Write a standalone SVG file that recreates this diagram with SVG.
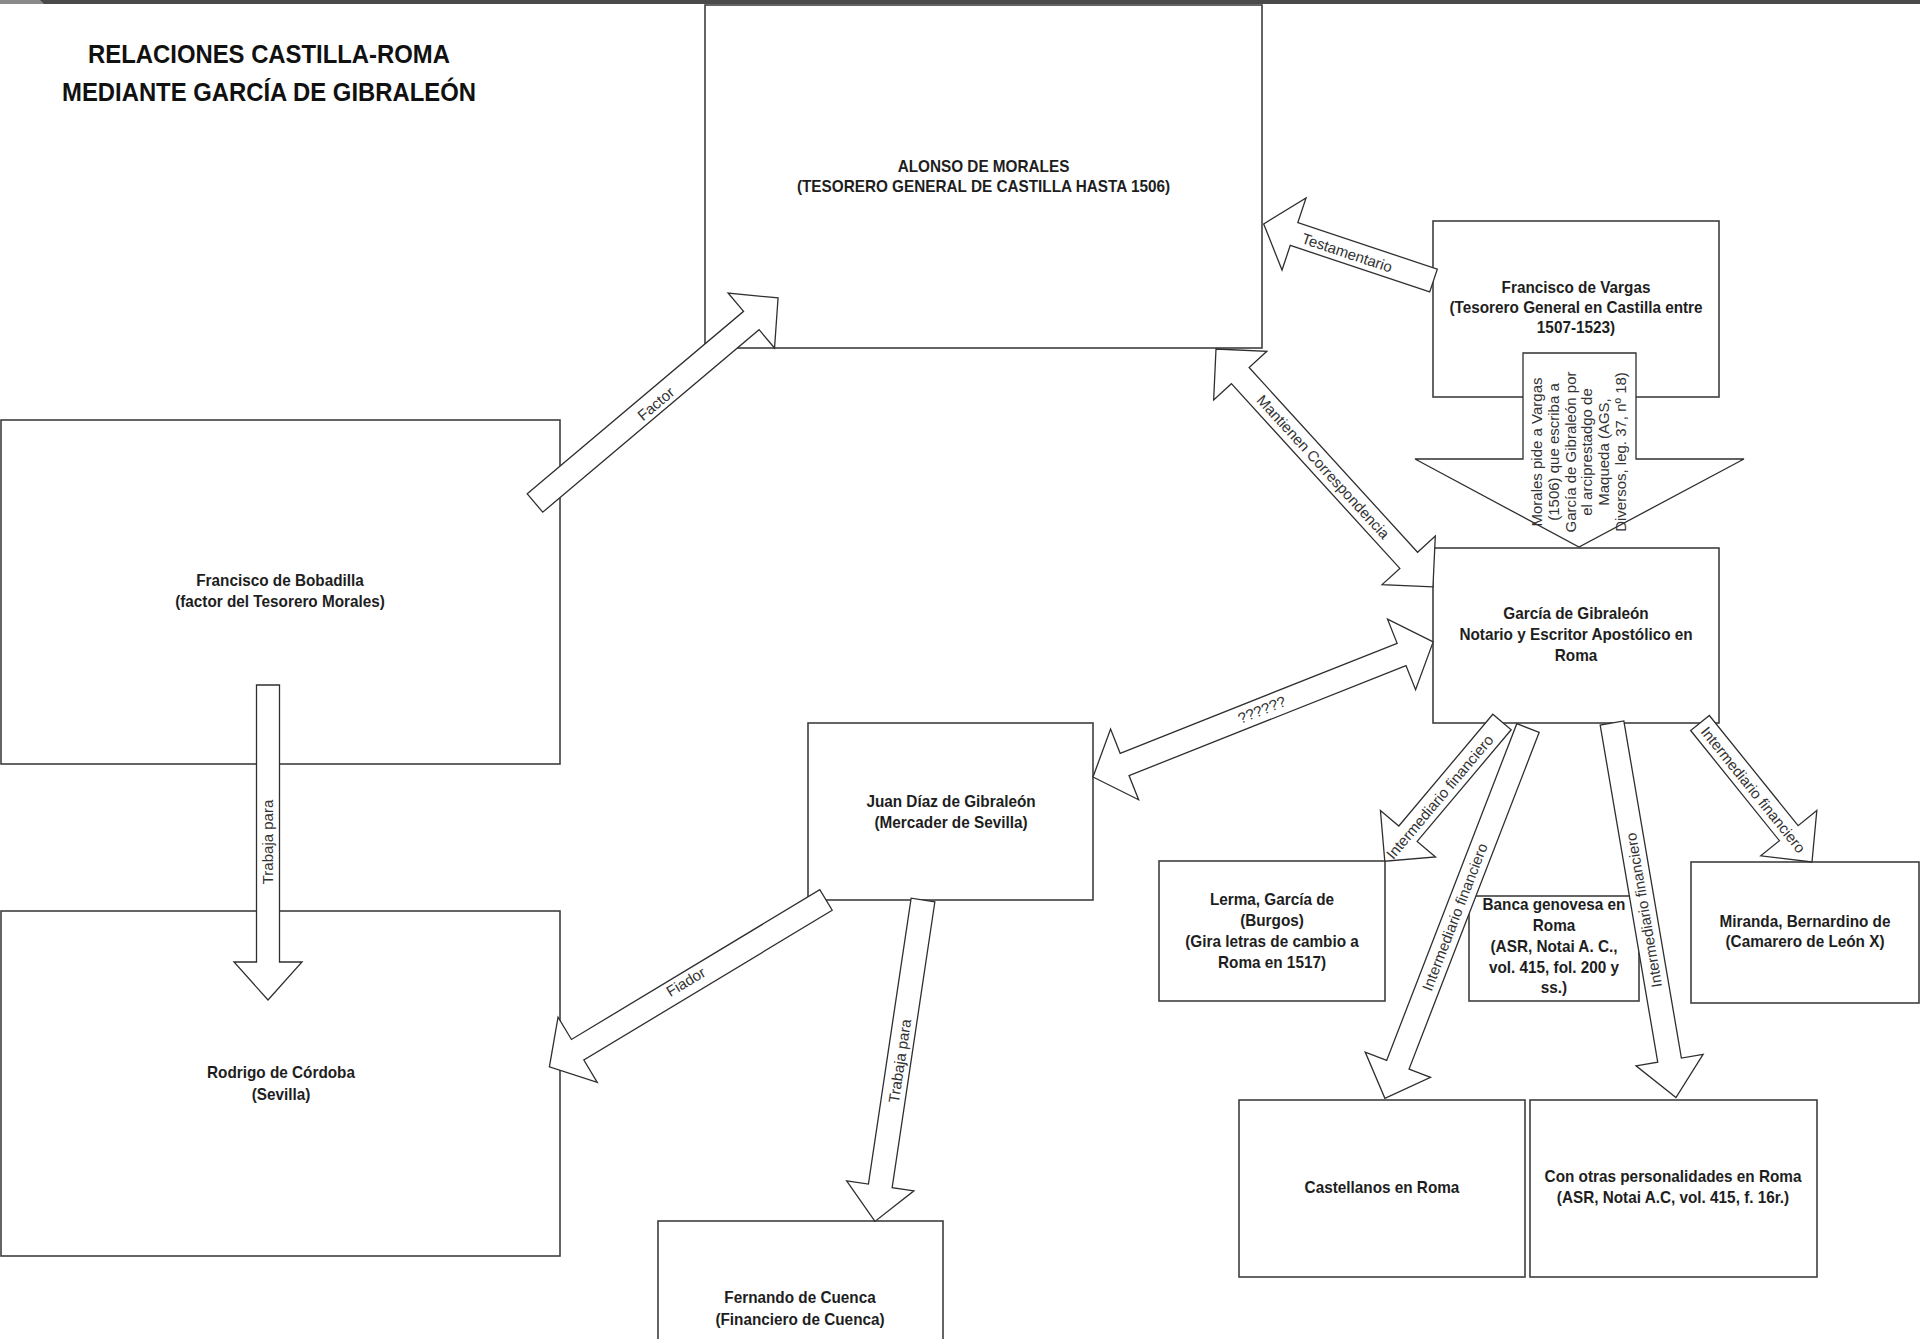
<svg xmlns="http://www.w3.org/2000/svg" width="1920" height="1339" viewBox="0 0 1920 1339">
  <style>
    .box { fill: #ffffff; stroke: #3f3f3f; stroke-width: 1.6; }
    .arr { fill: #ffffff; stroke: #2f2f2f; stroke-width: 1.3; stroke-linejoin: miter; }
    .txt { font-family: "Liberation Sans", Arial, sans-serif; font-weight: bold; font-size: 16.3px; fill: #1e1e1e; text-anchor: middle; }
    .ttl { font-family: "Liberation Sans", Arial, sans-serif; font-weight: bold; font-size: 25.5px; fill: #111111; text-anchor: middle; }
    .lbl { font-family: "Liberation Sans", Arial, sans-serif; font-size: 15px; fill: #333333; text-anchor: middle; }
  </style>

  <rect x="0" y="0" width="1920" height="1339" fill="#ffffff"/>
  <!-- window strip along the top edge -->
  <rect x="0" y="0" width="1920" height="4" fill="#4a4a4a"/>
  <polygon points="0,0 40,0 44,4 0,4" fill="#8a8a8a"/>

  <!-- title (slightly condensed face) -->
  <g id="title" transform="translate(269,0) scale(0.936,1)">
    <text class="ttl" x="0" y="63">RELACIONES CASTILLA-ROMA</text>
    <text class="ttl" x="0" y="101">MEDIANTE GARCÍA DE GIBRALEÓN</text>
  </g>

  <!-- nodes: box plus centred, slightly condensed text -->
  <g id="morales">
    <rect class="box" x="705" y="5" width="557" height="343"/>
    <g transform="translate(983.5,0) scale(0.94,1)">
      <text class="txt" x="0" y="172">ALONSO DE MORALES</text>
      <text class="txt" x="0" y="192">(TESORERO GENERAL DE CASTILLA HASTA 1506)</text>
    </g>
  </g>

  <g id="vargas">
    <rect class="box" x="1433" y="221" width="286" height="176"/>
    <g transform="translate(1576,0) scale(0.94,1)">
      <text class="txt" x="0" y="293">Francisco de Vargas</text>
      <text class="txt" x="0" y="313">(Tesorero General en Castilla entre</text>
      <text class="txt" x="0" y="333">1507-1523)</text>
    </g>
  </g>

  <g id="gibraleon">
    <rect class="box" x="1433" y="548" width="286" height="175"/>
    <g transform="translate(1576,0) scale(0.94,1)">
      <text class="txt" x="0" y="619">García de Gibraleón</text>
      <text class="txt" x="0" y="640">Notario y Escritor Apostólico en</text>
      <text class="txt" x="0" y="661">Roma</text>
    </g>
  </g>

  <g id="bobadilla">
    <rect class="box" x="1" y="420" width="559" height="344"/>
    <g transform="translate(280,0) scale(0.94,1)">
      <text class="txt" x="0" y="586">Francisco de Bobadilla</text>
      <text class="txt" x="0" y="607">(factor del Tesorero Morales)</text>
    </g>
  </g>

  <g id="rodrigo">
    <rect class="box" x="1" y="911" width="559" height="345"/>
    <g transform="translate(281,0) scale(0.94,1)">
      <text class="txt" x="0" y="1078">Rodrigo de Córdoba</text>
      <text class="txt" x="0" y="1100">(Sevilla)</text>
    </g>
  </g>

  <g id="juan">
    <rect class="box" x="808" y="723" width="285" height="177"/>
    <g transform="translate(951,0) scale(0.94,1)">
      <text class="txt" x="0" y="807">Juan Díaz de Gibraleón</text>
      <text class="txt" x="0" y="828">(Mercader de Sevilla)</text>
    </g>
  </g>

  <g id="fernando">
    <rect class="box" x="658" y="1221" width="285" height="130"/>
    <g transform="translate(800,0) scale(0.94,1)">
      <text class="txt" x="0" y="1303">Fernando de Cuenca</text>
      <text class="txt" x="0" y="1325">(Financiero de Cuenca)</text>
    </g>
  </g>

  <g id="lerma">
    <rect class="box" x="1159" y="861" width="226" height="140"/>
    <g transform="translate(1272,0) scale(0.94,1)">
      <text class="txt" x="0" y="905">Lerma, García de</text>
      <text class="txt" x="0" y="926">(Burgos)</text>
      <text class="txt" x="0" y="947">(Gira letras de cambio a</text>
      <text class="txt" x="0" y="968">Roma en 1517)</text>
    </g>
  </g>

  <g id="banca">
    <rect class="box" x="1469" y="896" width="170" height="105"/>
    <g transform="translate(1554,0) scale(0.94,1)">
      <text class="txt" x="0" y="910">Banca genovesa en</text>
      <text class="txt" x="0" y="931">Roma</text>
      <text class="txt" x="0" y="952">(ASR, Notai A. C.,</text>
      <text class="txt" x="0" y="973">vol. 415, fol. 200 y</text>
      <text class="txt" x="0" y="993">ss.)</text>
    </g>
  </g>

  <g id="miranda">
    <rect class="box" x="1691" y="862" width="228" height="141"/>
    <g transform="translate(1805,0) scale(0.94,1)">
      <text class="txt" x="0" y="927">Miranda, Bernardino de</text>
      <text class="txt" x="0" y="947">(Camarero de León X)</text>
    </g>
  </g>

  <g id="castellanos">
    <rect class="box" x="1239" y="1100" width="286" height="177"/>
    <g transform="translate(1382,0) scale(0.94,1)">
      <text class="txt" x="0" y="1193">Castellanos en Roma</text>
    </g>
  </g>

  <g id="otras">
    <rect class="box" x="1530" y="1100" width="287" height="177"/>
    <g transform="translate(1673,0) scale(0.94,1)">
      <text class="txt" x="0" y="1182">Con otras personalidades en Roma</text>
      <text class="txt" x="0" y="1203">(ASR, Notai A.C, vol. 415, f. 16r.)</text>
    </g>
  </g>

  <!-- connectors: block arrows, tail at local origin, pointing along +x -->
  <g id="connectors">
    <g id="c-factor">
      <polygon class="arr" transform="translate(535,503) rotate(-40.15)" points="0,-12 283,-12 283,-36 318,0 283,36 283,12 0,12"/>
      <text class="lbl" transform="translate(656,404) rotate(-40.15)" y="5">Factor</text>
    </g>
    <g id="c-testamentario">
      <polygon class="arr" transform="translate(1433.5,280.5) rotate(-161.57)" points="0,-12 147,-12 147,-38 179,0 147,38 147,12 0,12"/>
      <text class="lbl" transform="translate(1347,253) rotate(18.43)" y="5">Testamentario</text>
    </g>
    <g id="c-correspondencia">
      <polygon class="arr" transform="translate(1216,349) rotate(47.64)" points="0,0 36,-36 36,-12 286,-12 286,-36 322,0 286,36 286,12 36,12 36,36"/>
      <text class="lbl" transform="translate(1323,467) rotate(47.64)" y="5">Mantienen Correspondencia</text>
    </g>
    <g id="c-desconocido">
      <polygon class="arr" transform="translate(1093,777) rotate(-21.66)" points="0,0 34,-38 34,-12 332,-12 332,-38 366,0 332,38 332,12 34,12 34,38"/>
      <text class="lbl" transform="translate(1262,710) rotate(-21.66)" y="5">??????</text>
    </g>
    <g id="c-fiador">
      <polygon class="arr" transform="translate(826,900) rotate(148.91)" points="0,-12 290,-12 290,-38 323,0 290,38 290,12 0,12"/>
      <text class="lbl" transform="translate(686,982) rotate(-31.09)" y="5">Fiador</text>
    </g>
    <g id="c-trabaja-bobadilla">
      <polygon class="arr" transform="translate(268,685) rotate(90)" points="0,-11.5 277,-11.5 277,-34 315,0 277,34 277,11.5 0,11.5"/>
      <text class="lbl" transform="translate(268,842) rotate(-90)" y="5">Trabaja para</text>
    </g>
    <g id="c-trabaja-juan">
      <polygon class="arr" transform="translate(923,900) rotate(98.5)" points="0,-12 289,-12 289,-34 325,0 289,34 289,12 0,12"/>
      <text class="lbl" transform="translate(900,1061) rotate(-81.5)" y="5">Trabaja para</text>
    </g>
    <g id="c-lerma">
      <polygon class="arr" transform="translate(1502,722) rotate(130.09)" points="0,-12 146,-12 146,-36 182,0 146,36 146,12 0,12"/>
      <text class="lbl" transform="translate(1440,797) rotate(-49.91)" y="5">Intermediario financiero</text>
    </g>
    <g id="c-castellanos">
      <polygon class="arr" transform="translate(1528,728) rotate(111.13)" points="0,-12 361,-12 361,-35 397,0 361,35 361,12 0,12"/>
      <text class="lbl" transform="translate(1455,917) rotate(-68.87)" y="5">Intermediario financiero</text>
    </g>
    <g id="c-otras">
      <polygon class="arr" transform="translate(1612,723) rotate(80.31)" points="0,-12 342,-12 342,-34 380,0 342,34 342,12 0,12"/>
      <text class="lbl" transform="translate(1644,910) rotate(-99.69)" y="5">Intermediario financiero</text>
    </g>
    <g id="c-miranda">
      <polygon class="arr" transform="translate(1700,723) rotate(51.14)" points="0,-12 141.5,-12 141.5,-36 178.5,0 141.5,36 141.5,12 0,12"/>
      <text class="lbl" transform="translate(1753,790) rotate(51.14)" y="5">Intermediario financiero</text>
    </g>
    <g id="c-vargas-gibraleon">
      <polygon class="arr" points="1523,353 1636,353 1636,459 1744,459 1579,547 1415,459 1523,459"/>
      <g transform="translate(1579,452) rotate(-90)">
        <text class="lbl" x="0" y="-37">Morales pide a Vargas</text>
        <text class="lbl" x="0" y="-20.2">(1506) que escriba a</text>
        <text class="lbl" x="0" y="-3.4">García de Gibraleón por</text>
        <text class="lbl" x="0" y="13.4">el arciprestadgo de</text>
        <text class="lbl" x="0" y="30.2">Maqueda (AGS,</text>
        <text class="lbl" x="0" y="47">Diversos, leg. 37, nº 18)</text>
      </g>
    </g>
  </g>
</svg>
